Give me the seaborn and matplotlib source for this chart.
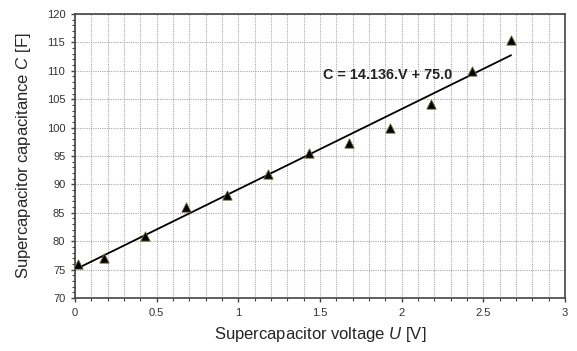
import numpy as np
import pandas as pd
import matplotlib
matplotlib.use("Agg")
import matplotlib.pyplot as plt
import seaborn as sns
from matplotlib.ticker import MultipleLocator

voltage = [0.02, 0.18, 0.43, 0.68, 0.93, 1.18, 1.43, 1.68, 1.93, 2.18, 2.43, 2.67]
capacitance = [76.0, 77.0, 81.0, 86.0, 88.1, 91.8, 95.5, 97.3, 99.9, 104.1, 110.0, 115.4]
slope = 14.136
intercept = 75.0
equation_label = "C = 14.136.V + 75.0"

sns.set_theme(style="white")
plt.rcParams['font.family'] = ['Liberation Sans', 'DejaVu Sans']
plt.rcParams['mathtext.fontset'] = 'custom'
plt.rcParams['mathtext.it'] = 'Liberation Sans:italic'
plt.rcParams['mathtext.rm'] = 'Liberation Sans'

df = pd.DataFrame({"U": voltage, "C": capacitance})
fit_x = np.array([voltage[0], voltage[-1]])
fit_df = pd.DataFrame({"U": fit_x, "C": slope * fit_x + intercept})

fig = plt.figure(figsize=(5.77, 3.51), dpi=100)
ax = fig.add_axes([75/577, 1 - 298/351, (565-75)/577, (298-14)/351])

ax.xaxis.set_major_locator(MultipleLocator(0.5))
ax.xaxis.set_minor_locator(MultipleLocator(0.1))
ax.yaxis.set_major_locator(MultipleLocator(5))
ax.yaxis.set_minor_locator(MultipleLocator(1))
ax.grid(True, which='major', axis='y', color='#aaaaaa', linestyle=(0, (1, 1)), linewidth=0.8)
ax.grid(True, which='both', axis='x', color='#aaaaaa', linestyle=(0, (1, 1)), linewidth=0.8)
ax.set_axisbelow(True)

sns.lineplot(data=fit_df, x="U", y="C", ax=ax, color='black', linewidth=1.3, zorder=3)
sns.scatterplot(data=df, x="U", y="C", ax=ax, marker='^', s=45, color='black',
                edgecolor='#6b6b2a', linewidth=0.6, zorder=4)

ax.set_xlim(0, 3)
ax.set_ylim(70, 120)
ax.set_xticks([0, 0.5, 1, 1.5, 2, 2.5, 3])
ax.set_xticklabels(['0', '0.5', '1', '1.5', '2', '2.5', '3'])

for s in ax.spines.values():
    s.set_color('#444444')
    s.set_linewidth(1.2)
    s.set_visible(True)

ax.tick_params(axis='both', which='major', direction='out', length=3, width=1,
               color='#444444', labelsize=8, labelcolor='#333333', pad=4,
               bottom=True, left=True)
ax.tick_params(axis='both', which='minor', direction='out', length=2, width=0.8,
               color='#444444', bottom=True, left=True)

ax.set_xlabel(r"Supercapacitor voltage $\mathit{U}$ [V]", fontsize=12, labelpad=5)
ax.set_ylabel(r"Supercapacitor capacitance $\mathit{C}$ [F]", fontsize=12, labelpad=10)

ax.text(1.52, 109.3, equation_label, fontsize=10.4, fontweight='bold', va='center', ha='left',
        color='#222222')

fig.savefig("out.png", dpi=100)
